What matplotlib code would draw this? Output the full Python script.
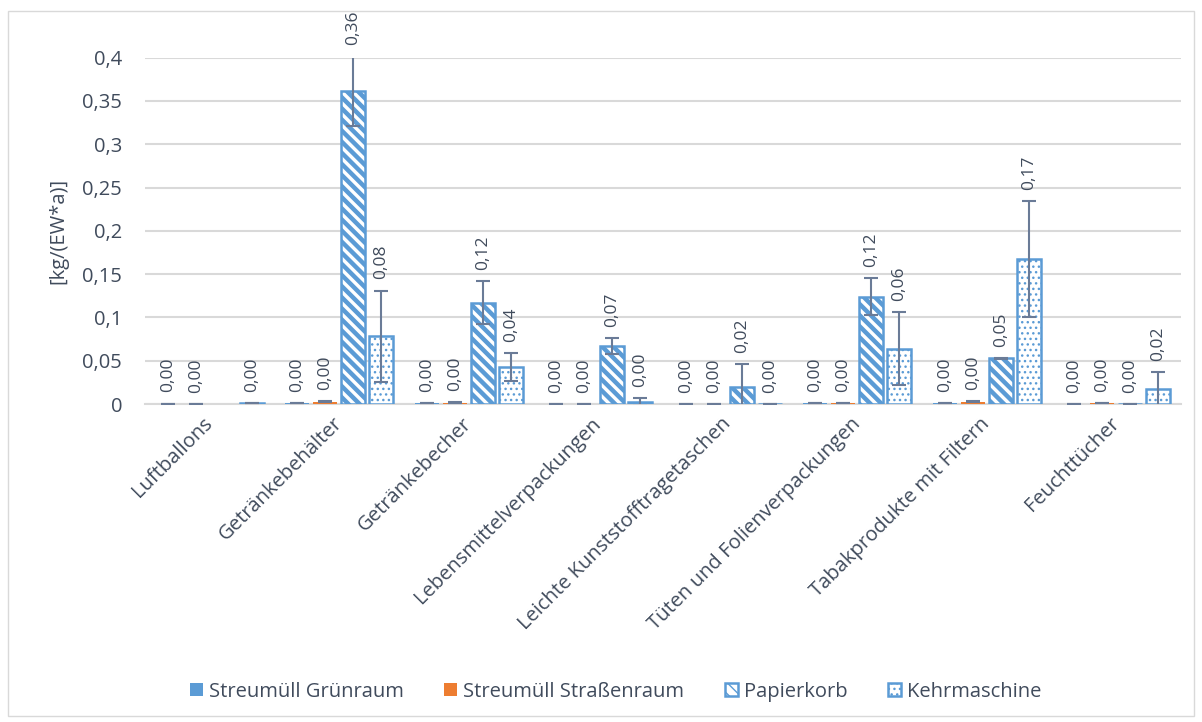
import numpy as np
import matplotlib
matplotlib.use("Agg")
import matplotlib.pyplot as plt
from matplotlib.patches import Rectangle

plt.rcParams["font.family"] = ["Open Sans", "DejaVu Sans"]

categories = [
    "Luftballons",
    "Getränkebehälter",
    "Getränkebecher",
    "Lebensmittelverpackungen",
    "Leichte Kunststofftragetaschen",
    "Tüten und Folienverpackungen",
    "Tabakprodukte mit Filtern",
    "Feuchttücher",
]
series_names = ["Streumüll Grünraum", "Streumüll Straßenraum", "Papierkorb", "Kehrmaschine"]

gruenraum = [0.0005, 0.0012, 0.0008, 0.0004, 0.0004, 0.0010, 0.0012, 0.0004]
gruenraum_err = [0, 0.0003, 0.0002, 0, 0, 0.0003, 0.0003, 0]
strassenraum = [0.0004, 0.0025, 0.0015, 0.0004, 0.0004, 0.0010, 0.0025, 0.0006]
strassenraum_err = [0, 0.0005, 0.0003, 0, 0, 0.0003, 0.0005, 0]
papierkorb = [np.nan, 0.3615, 0.117, 0.067, 0.020, 0.124, 0.0528, 0.0003]
papierkorb_err = [np.nan, 0.0405, 0.025, 0.0096, 0.026, 0.021, 0.0005, 0]
kehrmaschine = [0.0008, 0.078, 0.043, 0.0027, 0.0, 0.064, 0.1675, 0.017]
kehrmaschine_err = [0, 0.053, 0.016, 0.0046, 0, 0.042, 0.067, 0.020]

blue = "#5B9BD5"
orange = "#ED7D31"
err_color = "#6A7B97"
text_color = "#404B5C"
grid_color = "#D9D9D9"

fig = plt.figure(figsize=(12.02, 7.22), dpi=100)
ax = fig.add_axes([145 / 1202, 1 - 404 / 722, 1036 / 1202, 346.3 / 722])

x = np.arange(len(categories))
step = 0.216
width = 0.185
offsets = [-1.5 * step, -0.5 * step, 0.5 * step, 1.5 * step]

styles = [
    dict(color=blue, edgecolor=blue, linewidth=0),
    dict(color=orange, edgecolor=orange, linewidth=0),
    dict(facecolor="white", edgecolor=blue, hatch="\\\\\\", linewidth=1.8),
    dict(facecolor="white", edgecolor=blue, hatch="...", linewidth=1.8),
]
hatch_lw = [1, 1, 3.2, 1.0]
values = [gruenraum, strassenraum, papierkorb, kehrmaschine]
errors = [gruenraum_err, strassenraum_err, papierkorb_err, kehrmaschine_err]

handles = []
for i, (vals, errs) in enumerate(zip(values, errors)):
    vals = np.array(vals, dtype=float)
    errs = np.array(errs, dtype=float)
    with plt.rc_context({"hatch.linewidth": hatch_lw[i]}):
        bars = ax.bar(x + offsets[i], vals, width, label=series_names[i], zorder=3, **styles[i])
    for b in bars:
        if hasattr(b, "set_hatch_linewidth"):
            b.set_hatch_linewidth(hatch_lw[i])
    handles.append(bars)
    ok = ~np.isnan(vals)
    ax.errorbar(x[ok] + offsets[i], vals[ok], yerr=errs[ok], fmt="none",
                ecolor=err_color, elinewidth=1.5, capsize=5, capthick=1.5, zorder=4)
    for xi, v, e in zip(x[ok] + offsets[i], vals[ok], errs[ok]):
        ax.annotate(f"{v:.2f}".replace(".", ","), (xi, v + e), xytext=(0, 8),
                    textcoords="offset points", rotation=90, ha="center", va="bottom",
                    fontsize=12.5, color=text_color, annotation_clip=False)

ax.set_xlim(-0.5, len(categories) - 0.5)
ax.set_ylim(0, 0.4)
yt = np.arange(0, 0.401, 0.05)
ax.set_yticks(yt)
ax.set_yticklabels(["0" if t == 0 else f"{t:g}".replace(".", ",") for t in yt])
ax.set_xticks(x)
ax.set_xticklabels(categories, rotation=45, ha="right", va="center", rotation_mode="anchor")
ax.tick_params(axis="y", length=0, pad=16.5, labelsize=14.5, labelcolor=text_color)
ax.tick_params(axis="x", length=0, pad=12, labelsize=14.5, labelcolor=text_color)
ax.grid(axis="y", color=grid_color, linewidth=1.5, zorder=0)
ax.set_axisbelow(True)
for s in ["top", "right", "left"]:
    ax.spines[s].set_visible(False)
ax.spines["bottom"].set_color(grid_color)
ax.spines["bottom"].set_linewidth(1.5)
ax.set_ylabel("[kg/(EW*a)]", fontsize=14.5, color=text_color, labelpad=10)

fig.legend(handles=handles, labels=series_names, loc="center", bbox_to_anchor=(0.512, 0.042),
           ncol=4, frameon=False, fontsize=14.5, handlelength=0.65, handleheight=0.65,
           handletextpad=0.3, columnspacing=2.0, labelcolor=text_color)

fig.patches.append(Rectangle((8 / 1202, 1 - 716 / 722), 1186 / 1202, 705 / 722,
                             transform=fig.transFigure, fill=False,
                             edgecolor="#D9D9D9", linewidth=1))

fig.savefig("out.png", dpi=100)
